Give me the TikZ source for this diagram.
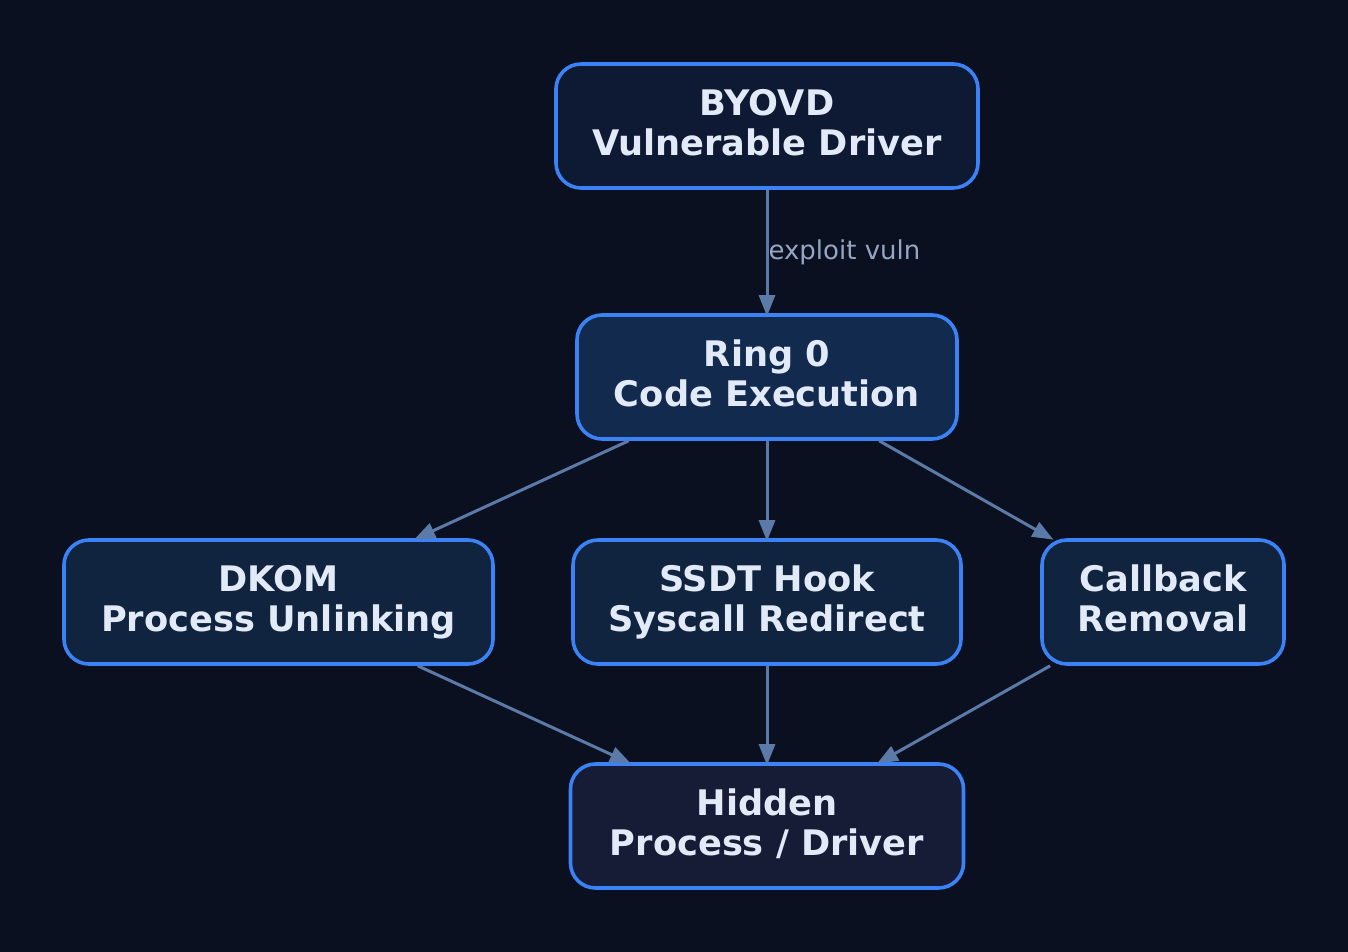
\documentclass[tikz,border=0pt]{standalone}
\usepackage{fontspec}
\setmainfont{DejaVu Sans}
\usetikzlibrary{arrows.meta}
\definecolor{bg}{HTML}{0A101F}
\definecolor{bord}{HTML}{3B82F6}
\definecolor{txt}{HTML}{E2EAF8}
\definecolor{edge}{HTML}{5B7AA8}
\definecolor{lbl}{HTML}{94A6C4}
\definecolor{fA}{HTML}{0E1A33}
\definecolor{fB}{HTML}{132A4F}
\definecolor{fC}{HTML}{11243F}
\definecolor{fD}{HTML}{161B36}
\tikzset{
  box/.style={draw=bord, line width=3.6pt, rounded corners=25pt, minimum height=124pt,
    text=txt, font=\fontsize{35.2}{40}\selectfont\bfseries, align=center, inner sep=0pt,
    text depth=8pt},
  conn/.style={draw=edge, line width=3pt, shorten >=-3pt, -{Triangle[length=21pt,width=16pt]}},
}
\begin{document}
\begin{tikzpicture}[x=1pt,y=-1pt]
\fill[bg] (0,0) rectangle (1348,952);
\useasboundingbox (0,0) rectangle (1348,952);
\node[box, fill=fA, minimum width=422pt] (byovd) at (767,126) {BYOVD\\Vulnerable Driver};
\node[box, fill=fB, minimum width=380pt] (ring) at (767,377) {Ring 0\\Code Execution};
\node[box, fill=fC, minimum width=429pt] (dkom) at (278.5,602) {DKOM\\Process Unlinking};
\node[box, fill=fC, minimum width=388pt] (ssdt) at (767,602) {SSDT Hook\\Syscall Redirect};
\node[box, fill=fC, minimum width=242pt] (cb) at (1163,602) {Callback\\Removal};
\node[box, fill=fD, minimum width=393pt] (hid) at (767,826) {Hidden\\Process / Driver};
\draw[conn] (byovd) -- node[anchor=west, pos=0.51, text=lbl, font=\fontsize{26}{30}\selectfont, inner sep=0pt] {exploit vuln} (ring);
\draw[conn] (ring) -- (dkom);
\draw[conn] (ring) -- (ssdt);
\draw[conn] (ring) -- (cb);
\draw[conn] (dkom) -- (hid);
\draw[conn] (ssdt) -- (hid);
\draw[conn] (cb) -- (hid);
\end{tikzpicture}
\end{document}
